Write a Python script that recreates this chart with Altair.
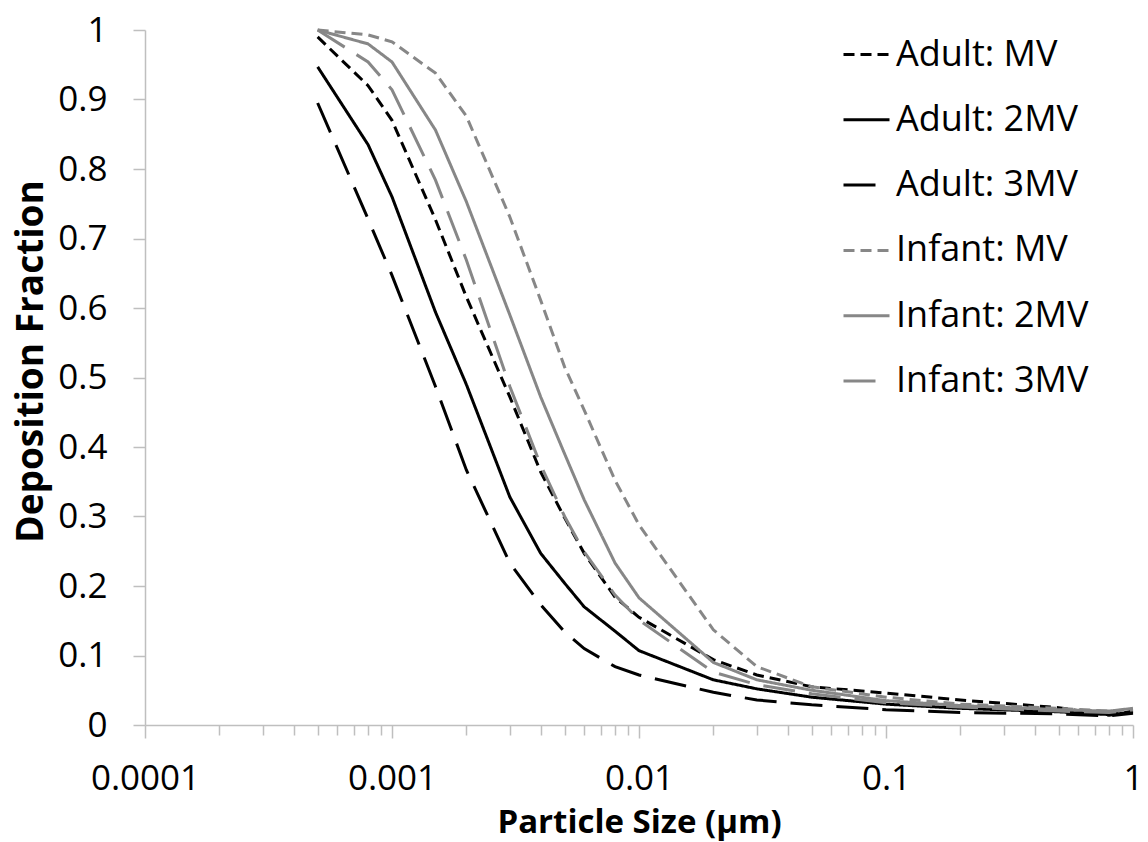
import altair as alt
import pandas as pd

sizes = [0.0005, 0.0008, 0.001, 0.0015, 0.002, 0.003, 0.004, 0.005, 0.006, 0.008,
         0.01, 0.02, 0.03, 0.05, 0.1, 0.2, 0.5, 0.8, 1.0]

adult_mv   = [0.99, 0.92, 0.87, 0.727, 0.616, 0.472, 0.364, 0.298, 0.247, 0.184,
              0.155, 0.094, 0.072, 0.055, 0.046, 0.036, 0.025, 0.014, 0.020]
adult_2mv  = [0.947, 0.835, 0.76, 0.594, 0.49, 0.328, 0.247, 0.204, 0.17, 0.135,
              0.107, 0.065, 0.052, 0.040, 0.030, 0.024, 0.019, 0.015, 0.018]
adult_3mv  = [0.895, 0.728, 0.647, 0.487, 0.367, 0.233, 0.173, 0.134, 0.11, 0.084,
              0.072, 0.047, 0.036, 0.029, 0.022, 0.018, 0.016, 0.013, 0.017]
infant_mv  = [1.0, 0.993, 0.983, 0.938, 0.876, 0.731, 0.611, 0.515, 0.453, 0.352,
              0.288, 0.137, 0.084, 0.055, 0.040, 0.030, 0.024, 0.020, 0.022]
infant_2mv = [1.0, 0.98, 0.954, 0.856, 0.753, 0.59, 0.472, 0.39, 0.324, 0.233,
              0.183, 0.090, 0.065, 0.050, 0.035, 0.028, 0.022, 0.020, 0.024]
infant_3mv = [1.0, 0.954, 0.914, 0.784, 0.669, 0.487, 0.374, 0.30, 0.249, 0.187,
              0.151, 0.076, 0.058, 0.045, 0.032, 0.026, 0.020, 0.018, 0.022]

series_names = ["Adult: MV", "Adult: 2MV", "Adult: 3MV",
                "Infant: MV", "Infant: 2MV", "Infant: 3MV"]
series_values = [adult_mv, adult_2mv, adult_3mv, infant_mv, infant_2mv, infant_3mv]
series_colors = ["#000000", "#000000", "#000000", "#878787", "#878787", "#878787"]
series_dashes = [[11, 6], [1, 0], [32, 14], [11, 6], [1, 0], [32, 14]]

x_ticks = [k * 10.0 ** e for e in range(-4, 0) for k in range(1, 10)] + [1.0]
y_ticks = [0, 0.1, 0.2, 0.3, 0.4, 0.5, 0.6, 0.7, 0.8, 0.9, 1.0]

rows = []
for i, (name, vals) in enumerate(zip(series_names, series_values)):
    for s, v in zip(sizes, vals):
        rows.append({"size": s, "frac": v, "series": name, "order": i})
df = pd.DataFrame(rows)

FONT = "Open Sans"
AXIS_GREY = "#bfbfbf"
decade_test = "abs(log(datum.value)/LN10 - round(log(datum.value)/LN10)) < 0.000001"

chart = alt.Chart(df).mark_line(strokeWidth=3).encode(
    x=alt.X(
        "size:Q",
        scale=alt.Scale(type="log", domain=[0.0001, 1], nice=False),
        axis=alt.Axis(
            title="Particle Size (µm)",
            values=x_ticks,
            format="~g",
            labelExpr=f"({decade_test}) ? datum.label : ''",
            tickSize={"condition": {"test": decade_test, "value": 13}, "value": 10},
            labelOverlap=False,
            labelFlush=False,
            labelPadding=40,
            labelBaseline="middle",
            titleX=494,
            titleY=97,
            titleBaseline="middle",
        ),
    ),
    y=alt.Y(
        "frac:Q",
        scale=alt.Scale(domain=[0, 1], nice=False),
        axis=alt.Axis(
            title="Deposition Fraction",
            values=y_ticks,
            format="~g",
            tickSize=12,
            labelPadding=26,
            titleX=-114,
            titleY=331,
            titleAngle=-90,
            titleBaseline="middle",
            titleAlign="center",
            titleFontSize=37,
        ),
    ),
    color=alt.Color(
        "series:N",
        scale=alt.Scale(domain=series_names, range=series_colors),
        sort=series_names,
        legend=alt.Legend(title=None, orient="none", legendX=697, legendY=0),
    ),
    strokeDash=alt.StrokeDash(
        "series:N",
        scale=alt.Scale(domain=series_names, range=series_dashes),
        sort=series_names,
        legend=alt.Legend(title=None, orient="none", legendX=697, legendY=0),
    ),
    order=alt.Order("order:Q"),
    detail="series:N",
).properties(
    width=988,
    height=695,
    padding={"left": 145, "top": 30, "right": 15, "bottom": 117},
    autosize=alt.AutoSizeParams(type="none"),
    background="white",
).configure_view(
    stroke=None
).configure_axis(
    grid=False,
    domainColor=AXIS_GREY,
    domainWidth=1.5,
    tickColor=AXIS_GREY,
    tickWidth=1.5,
    labelFont=FONT,
    labelFontSize=35,
    labelColor="#000000",
    titleFont=FONT,
    titleFontSize=33,
    titleFontWeight="bold",
    titleColor="#000000",
).configure_legend(
    symbolType="stroke",
    symbolSize=2116,
    symbolStrokeWidth=3,
    labelFont=FONT,
    labelFontSize=36,
    labelColor="#000000",
    labelOffset=5,
    rowPadding=22.3,
    padding=0,
    labelLimit=400,
)

chart.save("out.html", embed_options={"renderer": "svg", "actions": False})
